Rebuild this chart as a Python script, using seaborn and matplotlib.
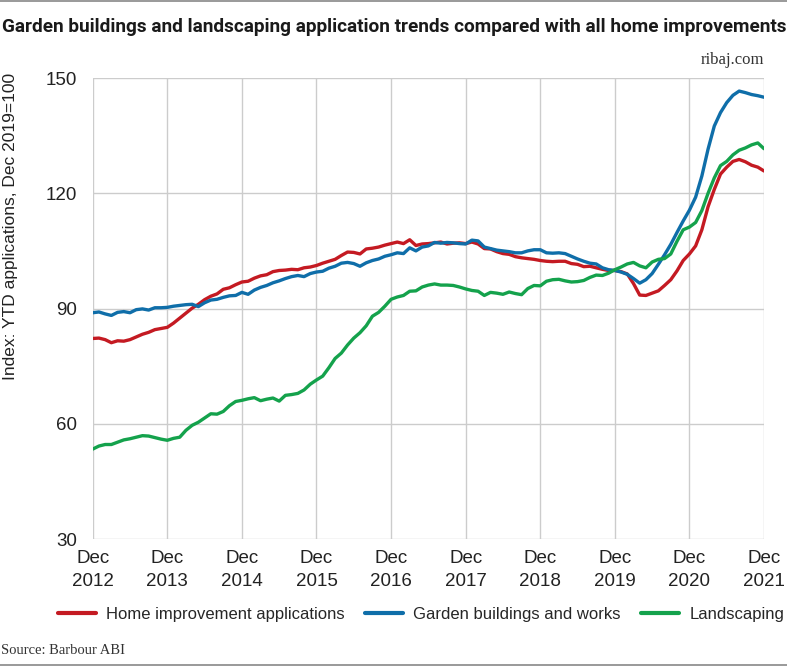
import numpy as np
import pandas as pd
import seaborn as sns
import matplotlib.pyplot as plt

## Monthly index values, Dec 2012 .. Dec 2021 (Dec 2019 = 100)
home_improvement = [
    82.2, 82.3, 81.9, 81.1, 81.6, 81.5, 81.9, 82.6, 83.3, 83.8, 84.5, 84.8,
    85.1, 86.2, 87.5, 88.8, 90.1, 91.1, 92.3, 93.2, 93.8, 95.0, 95.4, 96.2,
    96.9, 97.1, 97.9, 98.5, 98.8, 99.6, 99.9, 100.0, 100.2, 100.1, 100.6, 100.8,
    101.2, 101.8, 102.3, 102.8, 103.8, 104.7, 104.6, 104.2, 105.5, 105.7, 106.0, 106.5,
    106.9, 107.3, 106.9, 107.9, 106.4, 106.8, 106.9, 107.1, 107.3, 106.8, 107.0, 107.1,
    106.9, 107.3, 106.8, 105.6, 105.5, 104.8, 104.3, 104.1, 103.5, 103.2, 103.0, 102.8,
    102.5, 102.3, 102.2, 102.3, 102.3, 101.7, 101.5, 100.9, 101.0, 100.6, 100.2, 99.9,
    99.9, 99.6, 99.0, 96.5, 93.5, 93.4, 94.0, 94.6, 96.0, 97.5, 99.8, 102.5,
    104.2, 106.3, 110.5, 116.5, 121.0, 125.0, 126.8, 128.3, 128.8, 128.2, 127.3, 126.8,
    125.8,
]
garden_buildings = [
    88.9, 89.1, 88.6, 88.2, 89.0, 89.2, 88.9, 89.7, 89.9, 89.6, 90.2, 90.2,
    90.3, 90.6, 90.8, 91.0, 91.1, 90.5, 91.5, 92.2, 92.4, 92.9, 93.3, 93.4,
    94.2, 93.7, 94.8, 95.5, 96.0, 96.7, 97.2, 97.8, 98.3, 98.6, 98.3, 99.1,
    99.5, 99.7, 100.5, 101.0, 101.8, 102.0, 101.7, 101.0, 101.9, 102.5, 102.9, 103.6,
    104.0, 104.5, 104.3, 105.8, 105.0, 106.0, 106.3, 107.2, 107.0, 107.2, 107.1, 106.9,
    106.8, 107.8, 107.6, 106.0, 105.6, 105.2, 105.0, 104.8, 104.5, 104.5, 105.0, 105.3,
    105.3, 104.5, 104.4, 104.5, 104.3, 103.6, 102.9, 102.3, 101.8, 101.6, 100.6, 100.1,
    99.9, 99.5, 98.9, 97.8, 96.6, 97.5, 99.1, 101.5, 104.0, 106.7, 109.8, 112.8,
    115.6, 119.0, 124.5, 131.5, 137.5, 141.0, 143.6, 145.5, 146.6, 146.2, 145.7, 145.4,
    145.0,
]
landscaping = [
    53.4, 54.2, 54.6, 54.6, 55.2, 55.8, 56.1, 56.5, 56.9, 56.8, 56.4, 56.0,
    55.7, 56.2, 56.5, 58.3, 59.6, 60.4, 61.5, 62.6, 62.5, 63.2, 64.7, 65.8,
    66.1, 66.5, 66.8, 66.0, 66.4, 66.7, 65.9, 67.4, 67.6, 67.9, 68.8, 70.3,
    71.4, 72.4, 74.6, 77.0, 78.4, 80.5, 82.3, 83.7, 85.5, 88.0, 89.0, 90.6,
    92.4, 93.0, 93.4, 94.5, 94.6, 95.6, 96.1, 96.4, 96.1, 96.1, 96.0, 95.6,
    95.1, 94.7, 94.5, 93.4, 94.2, 94.0, 93.7, 94.3, 93.9, 93.6, 95.2, 96.0,
    95.9, 97.1, 97.5, 97.6, 97.2, 96.9, 97.0, 97.3, 98.1, 98.7, 98.6, 99.2,
    100.1, 100.8, 101.6, 102.0, 101.1, 100.6, 102.1, 102.8, 103.0, 104.2, 107.5, 110.5,
    111.2, 112.4, 115.5, 120.0, 124.0, 127.2, 128.3, 130.0, 131.2, 131.8, 132.6, 133.1,
    131.6,
]

series_names = ['Home improvement applications', 'Garden buildings and works', 'Landscaping']
series_colors = ['#c41a22', '#0f6ea9', '#14a24c']
year_labels = ['Dec\n%d' % y for y in range(2012, 2022)]
y_ticks = [30, 60, 90, 120, 150]

## Long format for seaborn
months = np.arange(len(home_improvement))
df = pd.concat([
    pd.DataFrame({'month': months, 'value': vals, 'series': name})
    for name, vals in zip(series_names, [home_improvement, garden_buildings, landscaping])
])

sns.set_style('white')
plt.rcParams['font.family'] = ['Liberation Sans', 'DejaVu Sans']

fig = plt.figure(figsize=(7.87, 6.68), dpi=100)
ax = fig.add_axes([0.1178, 0.1931, 0.8530, 0.6901])

sns.lineplot(data=df, x='month', y='value', hue='series', hue_order=series_names,
             palette=series_colors, linewidth=2.4, ax=ax, legend=False)

ax.set_xlim(0, 108)
ax.set_ylim(30, 150)
ax.set_xticks(np.arange(0, 109, 12))
ax.set_xticklabels(year_labels, fontsize=13.5, color='#222222', linespacing=1.45)
ax.set_yticks(y_ticks)
ax.set_yticklabels([str(t) for t in y_ticks], fontsize=13.5, color='#222222')
ax.tick_params(axis='both', length=0)
ax.tick_params(axis='y', pad=11)
ax.tick_params(axis='x', pad=8)
ax.grid(True, color='#cccccc', linewidth=1)
for s in ax.spines.values():
    s.set_visible(False)
ax.set_xlabel('')
ax.set_ylabel('')

## Y axis title, placed high like the original
fig.text(11 / 787, 1 - 73 / 668, 'Index: YTD applications, Dec 2019=100', rotation=90,
         fontsize=12.5, color='#222222', ha='center', va='top')

## Titles and notes
fig.text(0.003, 1 - 27 / 668, 'Garden buildings and landscaping application trends compared with all home improvements',
         family=['Roboto', 'DejaVu Sans'], fontsize=13.65, fontweight='bold', color='#1a1a1a',
         va='center', ha='left')
fig.text(764 / 787, 1 - 60 / 668, 'ribaj.com', family='Liberation Serif', fontsize=12,
         color='#333333', ha='right', va='center')
fig.text(0.001, 1 - 651 / 668, 'Source: Barbour ABI', family='Liberation Serif', fontsize=10.5,
         color='#333333', ha='left', va='center')

## Legend
handles = [plt.Line2D([0], [0], color=c, linewidth=3) for c in series_colors]
fig.legend(handles, series_names, loc='center', bbox_to_anchor=(0.535, 1 - 614 / 668), ncol=3,
           frameon=False, fontsize=12, handlelength=2.3, columnspacing=1.2, handletextpad=0.6)

## Thin rules at top and bottom
fig.add_artist(plt.Line2D([0, 1], [0.999, 0.999], color='#888888', linewidth=1.2, transform=fig.transFigure))
fig.add_artist(plt.Line2D([0, 1], [1 - 665 / 668, 1 - 665 / 668], color='#888888', linewidth=1.2,
                          transform=fig.transFigure))

fig.savefig('out.png', dpi=100)
